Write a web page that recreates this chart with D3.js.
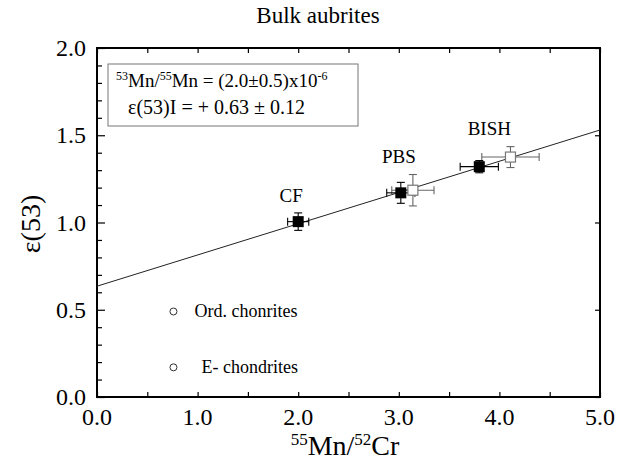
<!DOCTYPE html>
<html><head><meta charset="utf-8">
<script src="https://cdn.jsdelivr.net/npm/d3@7"></script>
<style>body{margin:0;background:#fff}svg{display:block}</style>
</head><body><svg id="c" width="621" height="462" font-family="'Liberation Serif', 'DejaVu Serif', 'Times New Roman', serif"></svg>
<script>
// ---- data ----
const sampleNames = ["CF", "PBS", "BISH"];
const filledX = [2.00, 3.02, 3.80];
const filledY = [1.005, 1.17, 1.32];
const filledXErr = [0.105, 0.14, 0.19];
const filledYErr = [0.05, 0.06, 0.035];
const openX = [3.14, 4.11];
const openY = [1.185, 1.375];
const openXErr = [0.21, 0.285];
const openYErr = [0.09, 0.06];
const labelX = [1.93, 3.00, 3.90];
const labelY = [1.12, 1.34, 1.50];
const refNames = ["Ord. chonrites", "E- chondrites"];
const refX = [0.76, 0.76];
const refY = [0.49, 0.17];
const fitIntercept = 0.635;
const fitSlope = 0.179;
const xTickLabels = ["0.0", "1.0", "2.0", "3.0", "4.0", "5.0"];
const yTickLabels = ["0.0", "0.5", "1.0", "1.5", "2.0"];

// ---- layout ----
const svg = d3.select("#c");
const L = 97, R = 600, T = 48, B = 397;
const x = d3.scaleLinear().domain([0, 5]).range([L, R]);
const y = d3.scaleLinear().domain([0, 2]).range([B, T]);

// title
svg.append("text").attr("x", 318).attr("y", 23).attr("text-anchor", "middle")
  .attr("font-size", 23).text("Bulk aubrites");

// axes (inward ticks)
const xMinor = d3.range(0, 5.01, 0.5);
const yMinor = d3.range(0, 2.001, 0.1);
const gx = svg.append("g").attr("transform", `translate(0,${B})`)
  .call(d3.axisTop(x).tickValues(xMinor).tickSize(5).tickFormat(""));
const gxt = svg.append("g").attr("transform", `translate(0,${T})`)
  .call(d3.axisBottom(x).tickValues(xMinor).tickSize(5).tickFormat(""));
const gy = svg.append("g").attr("transform", `translate(${L},0)`)
  .call(d3.axisRight(y).tickValues(yMinor).tickSize(5).tickFormat(""));
const gyr = svg.append("g").attr("transform", `translate(${R},0)`)
  .call(d3.axisLeft(y).tickValues(d3.range(0, 2.001, 0.5)).tickSize(5).tickFormat(""));
gy.selectAll(".tick line").attr("x2", (d) => Math.abs(d * 2 - Math.round(d * 2)) < 1e-6 ? 8 : 5);
[gx, gxt, gy, gyr].forEach(g => { g.select(".domain").remove(); g.selectAll(".tick line").attr("stroke", "#000").attr("stroke-width", 1.2); });

// tick labels
svg.append("g").selectAll("text").data(xTickLabels).join("text")
  .attr("x", d => x(+d)).attr("y", B + 28).attr("text-anchor", "middle")
  .attr("font-size", 24).text(d => d);
svg.append("g").selectAll("text").data(yTickLabels).join("text")
  .attr("x", L - 11).attr("y", d => y(+d) + 8).attr("text-anchor", "end")
  .attr("font-size", 24).text(d => d);

// frame
svg.append("rect").attr("x", L).attr("y", T).attr("width", R - L).attr("height", B - T)
  .attr("fill", "none").attr("stroke", "#000").attr("stroke-width", 2);

// axis titles
const xt = svg.append("text").attr("x", 345).attr("y", 455).attr("text-anchor", "middle").attr("font-size", 28);
xt.append("tspan").attr("dy", "-10").attr("font-size", 17).text("55");
xt.append("tspan").attr("dy", "10").text("Mn/");
xt.append("tspan").attr("dy", "-10").attr("font-size", 17).text("52");
xt.append("tspan").attr("dy", "10").text("Cr");
svg.append("text").attr("transform", "translate(40,224) rotate(-90)").attr("text-anchor", "middle")
  .attr("font-size", 28).text("ε(53)");

// info box
svg.append("rect").attr("x", 108).attr("y", 64).attr("width", 250).attr("height", 62)
  .attr("fill", "#fff").attr("stroke", "#777").attr("stroke-width", 1);
const t1 = svg.append("text").attr("x", 116).attr("y", 87).attr("font-size", 19);
t1.append("tspan").attr("dy", "-7").attr("font-size", 12).text("53");
t1.append("tspan").attr("dy", "7").text("Mn/");
t1.append("tspan").attr("dy", "-7").attr("font-size", 12).text("55");
t1.append("tspan").attr("dy", "7").text("Mn = (2.0±0.5)x10");
t1.append("tspan").attr("dy", "-7").attr("font-size", 12).text("-6");
svg.append("text").attr("x", 128).attr("y", 114).attr("font-size", 20).text("ε(53)I = + 0.63 ± 0.12");

// regression line
svg.append("line").attr("x1", x(0)).attr("y1", y(fitIntercept))
  .attr("x2", x(5)).attr("y2", y(fitIntercept + fitSlope * 5))
  .attr("stroke", "#222").attr("stroke-width", 1);

// error bars helper
function errBars(xs, ys, xe, ye, color) {
  const g = svg.append("g").attr("stroke", color).attr("stroke-width", 1.1);
  xs.forEach((xv, i) => {
    const cx = x(xv), cy = y(ys[i]);
    const x0 = x(xv - xe[i]), x1 = x(xv + xe[i]);
    const y0 = y(ys[i] - ye[i]), y1 = y(ys[i] + ye[i]);
    g.append("line").attr("x1", x0).attr("x2", x1).attr("y1", cy).attr("y2", cy);
    g.append("line").attr("x1", x0).attr("x2", x0).attr("y1", cy - 4).attr("y2", cy + 4);
    g.append("line").attr("x1", x1).attr("x2", x1).attr("y1", cy - 4).attr("y2", cy + 4);
    g.append("line").attr("x1", cx).attr("x2", cx).attr("y1", y0).attr("y2", y1);
    g.append("line").attr("x1", cx - 4).attr("x2", cx + 4).attr("y1", y0).attr("y2", y0);
    g.append("line").attr("x1", cx - 4).attr("x2", cx + 4).attr("y1", y1).attr("y2", y1);
  });
}
errBars(openX, openY, openXErr, openYErr, "#666");
errBars(filledX, filledY, filledXErr, filledYErr, "#000");

// open squares
svg.append("g").selectAll("rect").data(openX).join("rect")
  .attr("x", (d) => x(d) - 5).attr("y", (d, i) => y(openY[i]) - 5)
  .attr("width", 10).attr("height", 10).attr("fill", "#fff").attr("stroke", "#777").attr("stroke-width", 1.2);
// filled squares
svg.append("g").selectAll("rect").data(filledX).join("rect")
  .attr("x", (d) => x(d) - 5.5).attr("y", (d, i) => y(filledY[i]) - 5.5)
  .attr("width", 11).attr("height", 11).attr("fill", "#000");

// sample labels
svg.append("g").selectAll("text").data(sampleNames).join("text")
  .attr("x", (d, i) => x(labelX[i])).attr("y", (d, i) => y(labelY[i]))
  .attr("text-anchor", "middle").attr("font-size", 19).text(d => d);

// reference circles
svg.append("g").selectAll("circle").data(refX).join("circle")
  .attr("cx", d => x(d)).attr("cy", (d, i) => y(refY[i])).attr("r", 3.5)
  .attr("fill", "#fff").attr("stroke", "#333").attr("stroke-width", 1);
svg.append("g").selectAll("text").data(refNames).join("text")
  .attr("x", (d, i) => x(refX[i]) + (i === 0 ? 21 : 28)).attr("y", (d, i) => y(refY[i]) + 6)
  .attr("font-size", 18).text(d => d);
</script></body></html>
